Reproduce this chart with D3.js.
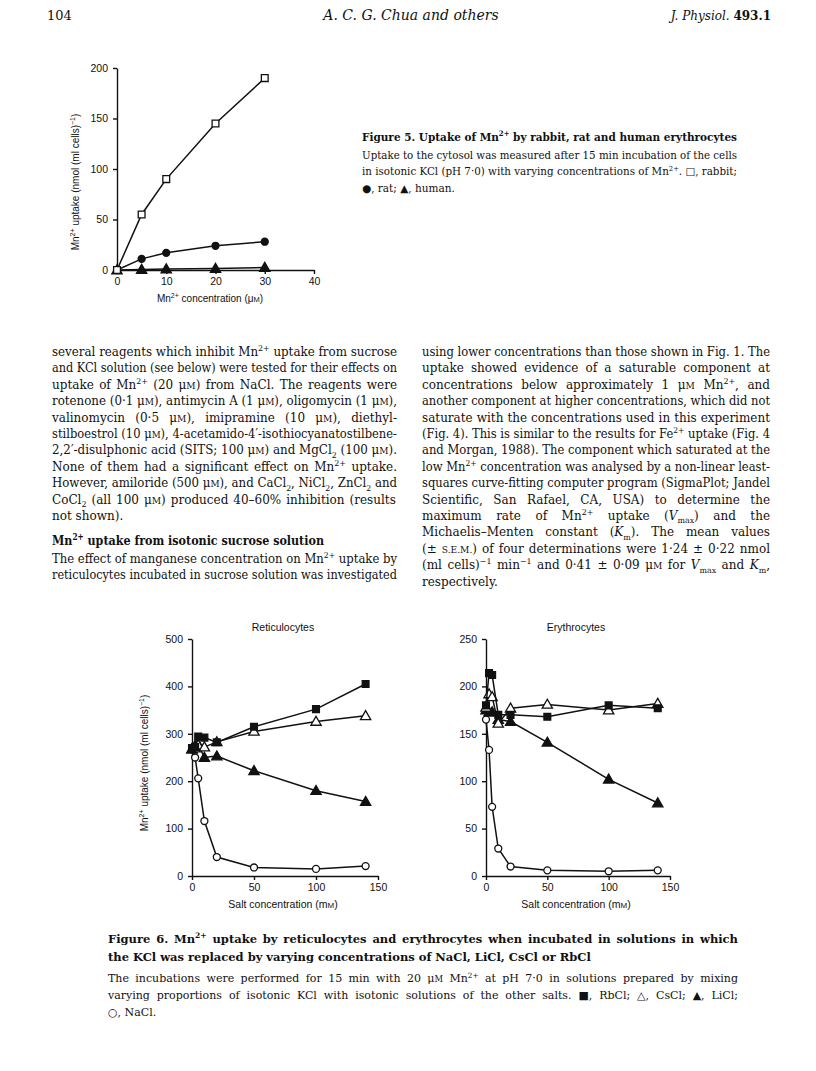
<!DOCTYPE html>
<html>
<head>
<meta charset="utf-8">
<script src="https://cdn.jsdelivr.net/npm/d3@7"></script>
<style>
  body { margin: 0; background: #fff; }
  svg { display: block; }
</style>
</head>
<body>
<div id="page"></div>
<script>
// ---- figure 5 data (Mn2+ concentration, uM) ----
var fig5Conc = [0, 5, 10, 20, 30];
var fig5Rabbit = [0, 55, 90, 145, 190];
var fig5Rat = [0, 11, 17, 24, 28];
var fig5Human = [0, 0.5, 1, 1.5, 2.5];
var fig5XTicks = [0, 10, 20, 30, 40];
var fig5YTicks = [0, 50, 100, 150, 200];

// ---- figure 6 data (salt concentration, mM) ----
var saltConc = [0, 2.5, 5, 10, 20, 50, 100, 140];
var retRbCl = [270, 272, 294, 292, 282, 315, 352, 405];
var retCsCl = [268, 270, 276, 272, 283, 305, 326, 338];
var retLiCl = [268, 275, 278, 250, 253, 222, 180, 157];
var retNaCl = [267, 250, 206, 116, 40, 18, 15, 21];
var eryRbCl = [180, 214, 212, 170, 170, 168, 180, 177];
var eryCsCl = [178, 192, 189, 161, 177, 181, 175, 182];
var eryLiCl = [175, 173, 173, 165, 163, 141, 102, 77];
var eryNaCl = [165, 133, 73, 29, 10, 6, 5, 6];
var saltTicks = [0, 50, 100, 150];
var retYTicks = [0, 100, 200, 300, 400, 500];
var eryYTicks = [0, 50, 100, 150, 200, 250];

// ---- page text ----
var fig5Title = "Figure 5. Uptake of Mn^{2+} by rabbit, rat and human erythrocytes";
var fig5Legend = [
  "Uptake to the cytosol was measured after 15 min incubation of the cells",
  "in isotonic KCl (pH 7·0) with varying concentrations of Mn^{2+}. □, rabbit;",
  "●, rat; ▲, human."
];
var leftPara1 = [
  "several reagents which inhibit Mn^{2+} uptake from sucrose",
  "and KCl solution (see below) were tested for their effects on",
  "uptake of Mn^{2+} (20 μ~{m}) from NaCl. The reagents were",
  "rotenone (0·1 μ~{m}), antimycin A (1 μ~{m}), oligomycin (1 μ~{m}),",
  "valinomycin (0·5 μ~{m}), imipramine (10 μ~{m}), diethyl-",
  "stilboestrol (10 μ~{m}), 4-acetamido-4′-isothiocyanatostilbene-",
  "2,2′-disulphonic acid (SITS; 100 μ~{m}) and MgCl_{2} (100 μ~{m}).",
  "None of them had a significant effect on Mn^{2+} uptake.",
  "However, amiloride (500 μ~{m}), and CaCl_{2}, NiCl_{2}, ZnCl_{2} and",
  "CoCl_{2} (all 100 μ~{m}) produced 40–60%  inhibition (results",
  "not shown)."
];
var leftHeading = "Mn^{2+} uptake from isotonic sucrose solution";
var leftPara2 = [
  "The effect of manganese concentration on Mn^{2+} uptake by",
  "reticulocytes incubated in sucrose solution was investigated"
];
var rightPara = [
  "using lower concentrations than those shown in Fig. 1. The",
  "uptake showed evidence of a saturable component at",
  "concentrations below approximately 1 μ~{m} Mn^{2+}, and",
  "another component at higher concentrations, which did not",
  "saturate with the concentrations used in this experiment",
  "(Fig. 4). This is similar to the results for Fe^{2+} uptake (Fig. 4",
  "and Morgan, 1988). The component which saturated at the",
  "low Mn^{2+} concentration was analysed by a non-linear least-",
  "squares curve-fitting computer program (SigmaPlot; Jandel",
  "Scientific, San Rafael, CA, USA) to determine the",
  "maximum rate of Mn^{2+} uptake (*{V}_{max}) and the",
  "Michaelis–Menten constant (*{K}_{m}). The mean values",
  "(± ~{s.e.m.}) of four determinations were 1·24 ± 0·22 nmol",
  "(ml cells)^{−1} min^{−1} and 0·41 ± 0·09 μ~{m} for *{V}_{max} and *{K}_{m},",
  "respectively."
];
var fig6Title = [
  "Figure 6. Mn^{2+} uptake by reticulocytes and erythrocytes when incubated in solutions in which",
  "the KCl was replaced by varying concentrations of NaCl, LiCl, CsCl or RbCl"
];
var fig6Legend = [
  "The incubations were performed for 15 min with 20 μ~{m} Mn^{2+} at pH 7·0 in solutions prepared by mixing",
  "varying proportions of isotonic KCl with isotonic solutions of the other salts. ■, RbCl; △, CsCl; ▲, LiCl;",
  "○, NaCl."
];

var serif = "'DejaVu Serif', serif";
var sans = "'Liberation Sans', Arial, sans-serif";

var svg = d3.select("#page")
    .append("svg")
    .attr("width", 816)
    .attr("height", 1071);

svg.append("rect").attr("width", 816).attr("height", 1071).attr("fill", "#fff");

// split "Mn^{2+}" style markup into pieces
function parseMarkup(s) {
    var segs = [], buf = "";
    for (var i = 0; i < s.length; i++) {
        var c = s[i];
        if ("^_~*".indexOf(c) >= 0 && s[i + 1] === "{") {
            if (buf) { segs.push({ t: buf, k: "" }); buf = ""; }
            var j = s.indexOf("}", i + 2);
            segs.push({ t: s.slice(i + 2, j), k: c });
            i = j;
        } else buf += c;
    }
    if (buf) segs.push({ t: buf, k: "" });
    return segs;
}

// one line of text, optionally justified to width
function textLine(parent, x, y, str, o) {
    var t = parent.append("text")
        .attr("x", x).attr("y", y)
        .attr("font-family", o.family || serif)
        .attr("font-size", o.size)
        .attr("font-weight", o.weight || "normal")
        .attr("font-style", o.italic ? "italic" : "normal")
        .attr("fill", "#111")
        .attr("text-anchor", o.anchor || "start");
    var shift = 0;
    parseMarkup(str).forEach(function (sg) {
        var ts = t.append("tspan"), target = 0, fs = null, txt = sg.t;
        if (sg.k === "^") { target = -0.4 * o.size; fs = 0.66 * o.size; }
        else if (sg.k === "_") { target = 0.28 * o.size; fs = 0.66 * o.size; }
        else if (sg.k === "~") { fs = 0.76 * o.size; txt = txt.toUpperCase(); }
        else if (sg.k === "*") ts.attr("font-style", "italic");
        if (fs) ts.attr("font-size", fs);
        if (target !== shift) { ts.attr("dy", target - shift); shift = target; }
        ts.text(txt);
    });
    if (o.width) {
        var nat = t.node().getComputedTextLength();
        var plain = parseMarkup(str).map(function (d) { return d.t; }).join("");
        var spaces = (plain.match(/ /g) || []).length;
        if (o.justify && nat < o.width && spaces) {
            t.attr("word-spacing", (o.width - nat) / spaces);
        } else if (nat > o.width) {
            t.attr("textLength", o.width).attr("lengthAdjust", "spacingAndGlyphs");
        }
    }
    return t;
}

function paragraph(parent, x, y0, lead, w, lines, o) {
    lines.forEach(function (l, i) {
        textLine(parent, x, y0 + i * lead, l, {
            size: o.size, weight: o.weight, width: w,
            justify: o.lastJustify ? true : i < lines.length - 1
        });
    });
}

// ---- running head ----
var head = svg.append("g");
textLine(head, 47, 20, "104", { size: 13 });
textLine(head, 411, 20, "A. C. G. Chua and others", { size: 14, italic: true, anchor: "middle" });
var jp = head.append("text").attr("x", 771).attr("y", 20).attr("text-anchor", "end")
    .attr("font-family", serif).attr("font-size", 12).attr("fill", "#111");
jp.append("tspan").attr("font-style", "italic").text("J. Physiol. ");
jp.append("tspan").attr("font-weight", "bold").text("493.1");

// ---- chart helpers ----
function styleAxis(g) {
    g.selectAll(".domain").attr("stroke", "#111").attr("stroke-width", 1.4);
    g.selectAll(".tick line").attr("stroke", "#111").attr("stroke-width", 1.4);
    g.selectAll(".tick text").attr("fill", "#111")
        .attr("font-family", sans).attr("font-size", 10.5);
}

function drawSeries(g, x, y, xs, ys, shape, filled) {
    var pts = xs.map(function (d, i) { return [x(d), y(ys[i])]; });
    g.append("path")
        .attr("d", d3.line()(pts))
        .attr("fill", "none")
        .attr("stroke", "#111")
        .attr("stroke-width", 1.5);
    var sym = d3.symbol()
        .type(shape === "square" ? d3.symbolSquare : shape === "circle" ? d3.symbolCircle : d3.symbolTriangle)
        .size(shape === "square" ? 46 : shape === "circle" ? 38 : 46);
    g.selectAll(null)
        .data(pts)
        .enter()
        .append("path")
        .attr("transform", function (d) { return "translate(" + d[0] + "," + (d[1] + (shape === "triangle" ? 0.8 : 0)) + ")"; })
        .attr("d", sym)
        .attr("fill", filled ? "#111" : "#fff")
        .attr("stroke", "#111")
        .attr("stroke-width", 1.3);
}

function yLabel(parent, cx, cy, size) {
    var t = parent.append("text")
        .attr("transform", "translate(" + cx + "," + cy + ") rotate(-90)")
        .attr("text-anchor", "middle")
        .attr("font-family", sans)
        .attr("font-size", size)
        .attr("fill", "#111");
    t.append("tspan").text("Mn");
    t.append("tspan").attr("font-size", size * 0.7).attr("dy", -size * 0.38).text("2+");
    t.append("tspan").attr("dy", size * 0.38).text(" uptake (nmol (ml cells)");
    t.append("tspan").attr("font-size", size * 0.7).attr("dy", -size * 0.38).text("−1");
    t.append("tspan").attr("dy", size * 0.38).text(")");
}

// ---- Figure 5 ----
var f5 = svg.append("g");
var x5 = d3.scaleLinear().domain([0, 40]).range([117, 314]);
var y5 = d3.scaleLinear().domain([0, 200]).range([270, 68]);

f5.append("g")
    .attr("transform", "translate(0," + y5(0) + ")")
    .call(d3.axisBottom(x5).tickValues(fig5XTicks).tickSize(4).tickSizeOuter(0).tickPadding(4))
    .call(styleAxis);
f5.append("g")
    .attr("transform", "translate(" + x5(0) + ",0)")
    .call(d3.axisLeft(y5).tickValues(fig5YTicks).tickSize(4).tickSizeOuter(0).tickPadding(5))
    .call(styleAxis);

drawSeries(f5, x5, y5, fig5Conc, fig5Human, "triangle", true);
drawSeries(f5, x5, y5, fig5Conc, fig5Rat, "circle", true);
drawSeries(f5, x5, y5, fig5Conc, fig5Rabbit, "square", false);

yLabel(f5, 79, 182, 10);
var xl5 = f5.append("text").attr("x", 210).attr("y", 302).attr("text-anchor", "middle")
    .attr("font-family", sans).attr("font-size", 10).attr("fill", "#111");
xl5.append("tspan").text("Mn");
xl5.append("tspan").attr("font-size", 7).attr("dy", -3.8).text("2+");
xl5.append("tspan").attr("dy", 3.8).text(" concentration (μ");
xl5.append("tspan").attr("font-size", 7.5).text("M");
xl5.append("tspan").text(")");

// Figure 5 caption
textLine(svg, 362, 141, fig5Title, { size: 11.5, weight: "bold", width: 375 });
paragraph(svg, 362, 159, 16.3, 375, fig5Legend, { size: 10.5 });

// ---- body text ----
paragraph(svg, 52, 356, 16.4, 345, leftPara1, { size: 12 });
textLine(svg, 52, 545, leftHeading, { size: 12.5, weight: "bold", width: 272 });
paragraph(svg, 52, 563, 16.4, 345, leftPara2, { size: 12, lastJustify: true });
paragraph(svg, 422, 356, 16.4, 348, rightPara, { size: 12 });

// ---- Figure 6 ----
function fig6Panel(x0, x1, yMax, yTicks, title, rb, cs, li, na, withLabel) {
    var g = svg.append("g");
    var x = d3.scaleLinear().domain([0, 150]).range([x0, x1]);
    var y = d3.scaleLinear().domain([0, yMax]).range([876, 639]);
    g.append("g")
        .attr("transform", "translate(0," + y(0) + ")")
        .call(d3.axisBottom(x).tickValues(saltTicks).tickSize(4).tickSizeOuter(0).tickPadding(4))
        .call(styleAxis);
    g.append("g")
        .attr("transform", "translate(" + x(0) + ",0)")
        .call(d3.axisLeft(y).tickValues(yTicks).tickSize(4).tickSizeOuter(0).tickPadding(5))
        .call(styleAxis);
    drawSeries(g, x, y, saltConc, na, "circle", false);
    drawSeries(g, x, y, saltConc, li, "triangle", true);
    drawSeries(g, x, y, saltConc, cs, "triangle", false);
    drawSeries(g, x, y, saltConc, rb, "square", true);
    g.append("text").attr("x", (x0 + x1) / 2 - 2).attr("y", 631).attr("text-anchor", "middle")
        .attr("font-family", sans).attr("font-size", 10.5).attr("fill", "#111").text(title);
    var xl = g.append("text").attr("x", (x0 + x1) / 2 - 2).attr("y", 908).attr("text-anchor", "middle")
        .attr("font-family", sans).attr("font-size", 10.5).attr("fill", "#111");
    xl.append("tspan").text("Salt concentration (m");
    xl.append("tspan").attr("font-size", 8).text("M");
    xl.append("tspan").text(")");
    if (withLabel) yLabel(g, x0 - 44, 763, 10);
}

fig6Panel(192, 378, 500, retYTicks, "Reticulocytes", retRbCl, retCsCl, retLiCl, retNaCl, true);
fig6Panel(486, 670, 250, eryYTicks, "Erythrocytes", eryRbCl, eryCsCl, eryLiCl, eryNaCl, false);

// Figure 6 caption
paragraph(svg, 108, 943, 17.5, 630, fig6Title, { size: 11.5, weight: "bold" });
paragraph(svg, 108, 982, 17, 630, fig6Legend, { size: 11 });
</script>
</body>
</html>
